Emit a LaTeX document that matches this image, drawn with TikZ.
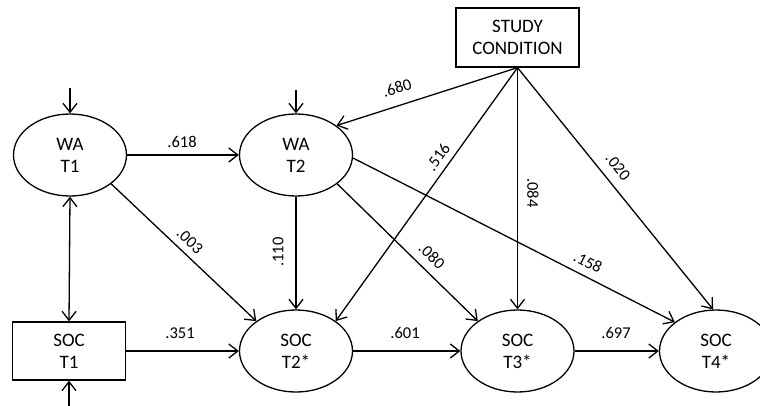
\documentclass[tikz,border=0pt]{standalone}
\usepackage{fontspec}
\setmainfont{Carlito}
\usetikzlibrary{arrows.meta,shapes.geometric}
\begin{document}
\begin{tikzpicture}[x=1pt,y=-1pt,
  latent/.style={ellipse,draw,line width=1.3pt,minimum width=113pt,minimum height=82pt,inner sep=0pt,align=center,font=\fontsize{19}{22}\selectfont},
  observed/.style={rectangle,draw,line width=1.3pt,inner sep=0pt,align=center,font=\fontsize{19}{22}\selectfont},
  path/.style={line width=1.3pt,-{Straight Barb[length=9pt,width=14pt,line width=1.3pt]}},
  both/.style={line width=1.3pt,{Straight Barb[length=9pt,width=14pt,line width=1.3pt]}-{Straight Barb[length=9pt,width=14pt,line width=1.3pt]}},
  coef/.style={font=\fontsize{16.5}{18}\selectfont,inner sep=0pt}]
\useasboundingbox (0,0) rectangle (760,405);
\node[latent] (wa1) at (70,155) {WA\\T1};
\node[latent] (wa2) at (296,155) {WA\\T2};
\node[observed,minimum width=123pt,minimum height=59pt] (sc) at (517.5,37.5) {STUDY\\CONDITION};
\node[observed,minimum width=113pt,minimum height=58pt] (soc1) at (69,351) {SOC\\T1};
\node[latent] (soc2) at (296,351) {SOC\\T2*};
\node[latent] (soc3) at (517.5,351) {SOC\\T3*};
\node[latent] (soc4) at (716,351) {SOC\\T4*};
\coordinate (e1) at (70,88);
\coordinate (e2) at (296,90);
\coordinate (e3) at (69,406);
\draw[path] (e1) -- (wa1.north);
\draw[path] (e2) -- (wa2.north);
\draw[path] (e3) -- (soc1.south);
\draw[both] (wa1.south) -- (soc1.north);
\draw[path] (wa1.east) -- (wa2.west);
\draw[path] (soc1.east) -- (soc2.west);
\draw[path] (soc2.east) -- (soc3.west);
\draw[path] (soc3.east) -- (soc4.west);
\draw[path] (sc.south) -- (wa2.36);
\draw[path] (sc.south) -- (soc2.37);
\draw[path] (sc.south) -- (soc3.north);
\draw[path] (sc.south) -- (soc4.94);
\draw[path] (wa1.-35) -- (soc2.143);
\draw[path] (wa2.south) -- (soc2.north);
\draw[path] (wa2.-35) -- (soc3.143);
\draw[path] (wa2.-3) -- (soc4.145);
\node[coef] (l1) at (182,142) {.618};
\node[coef] (l2) at (180,333) {.351};
\node[coef] (l3) at (405,333) {.601};
\node[coef] (l4) at (616,333) {.697};
\node[coef,rotate=17] (l5) at (397,88) {.680};
\node[coef,rotate=54] (l6) at (438,157) {.516};
\node[coef,rotate=-90] (l7) at (533,193) {.084};
\node[coef,rotate=-51] (l8) at (618,167) {.020};
\node[coef,rotate=90] (l9) at (278,252) {.110};
\node[coef,rotate=-43] (l10) at (190,241) {.003};
\node[coef,rotate=-44] (l11) at (432,256) {.080};
\node[coef,rotate=-27] (l12) at (588,262) {.158};
\end{tikzpicture}
\end{document}
